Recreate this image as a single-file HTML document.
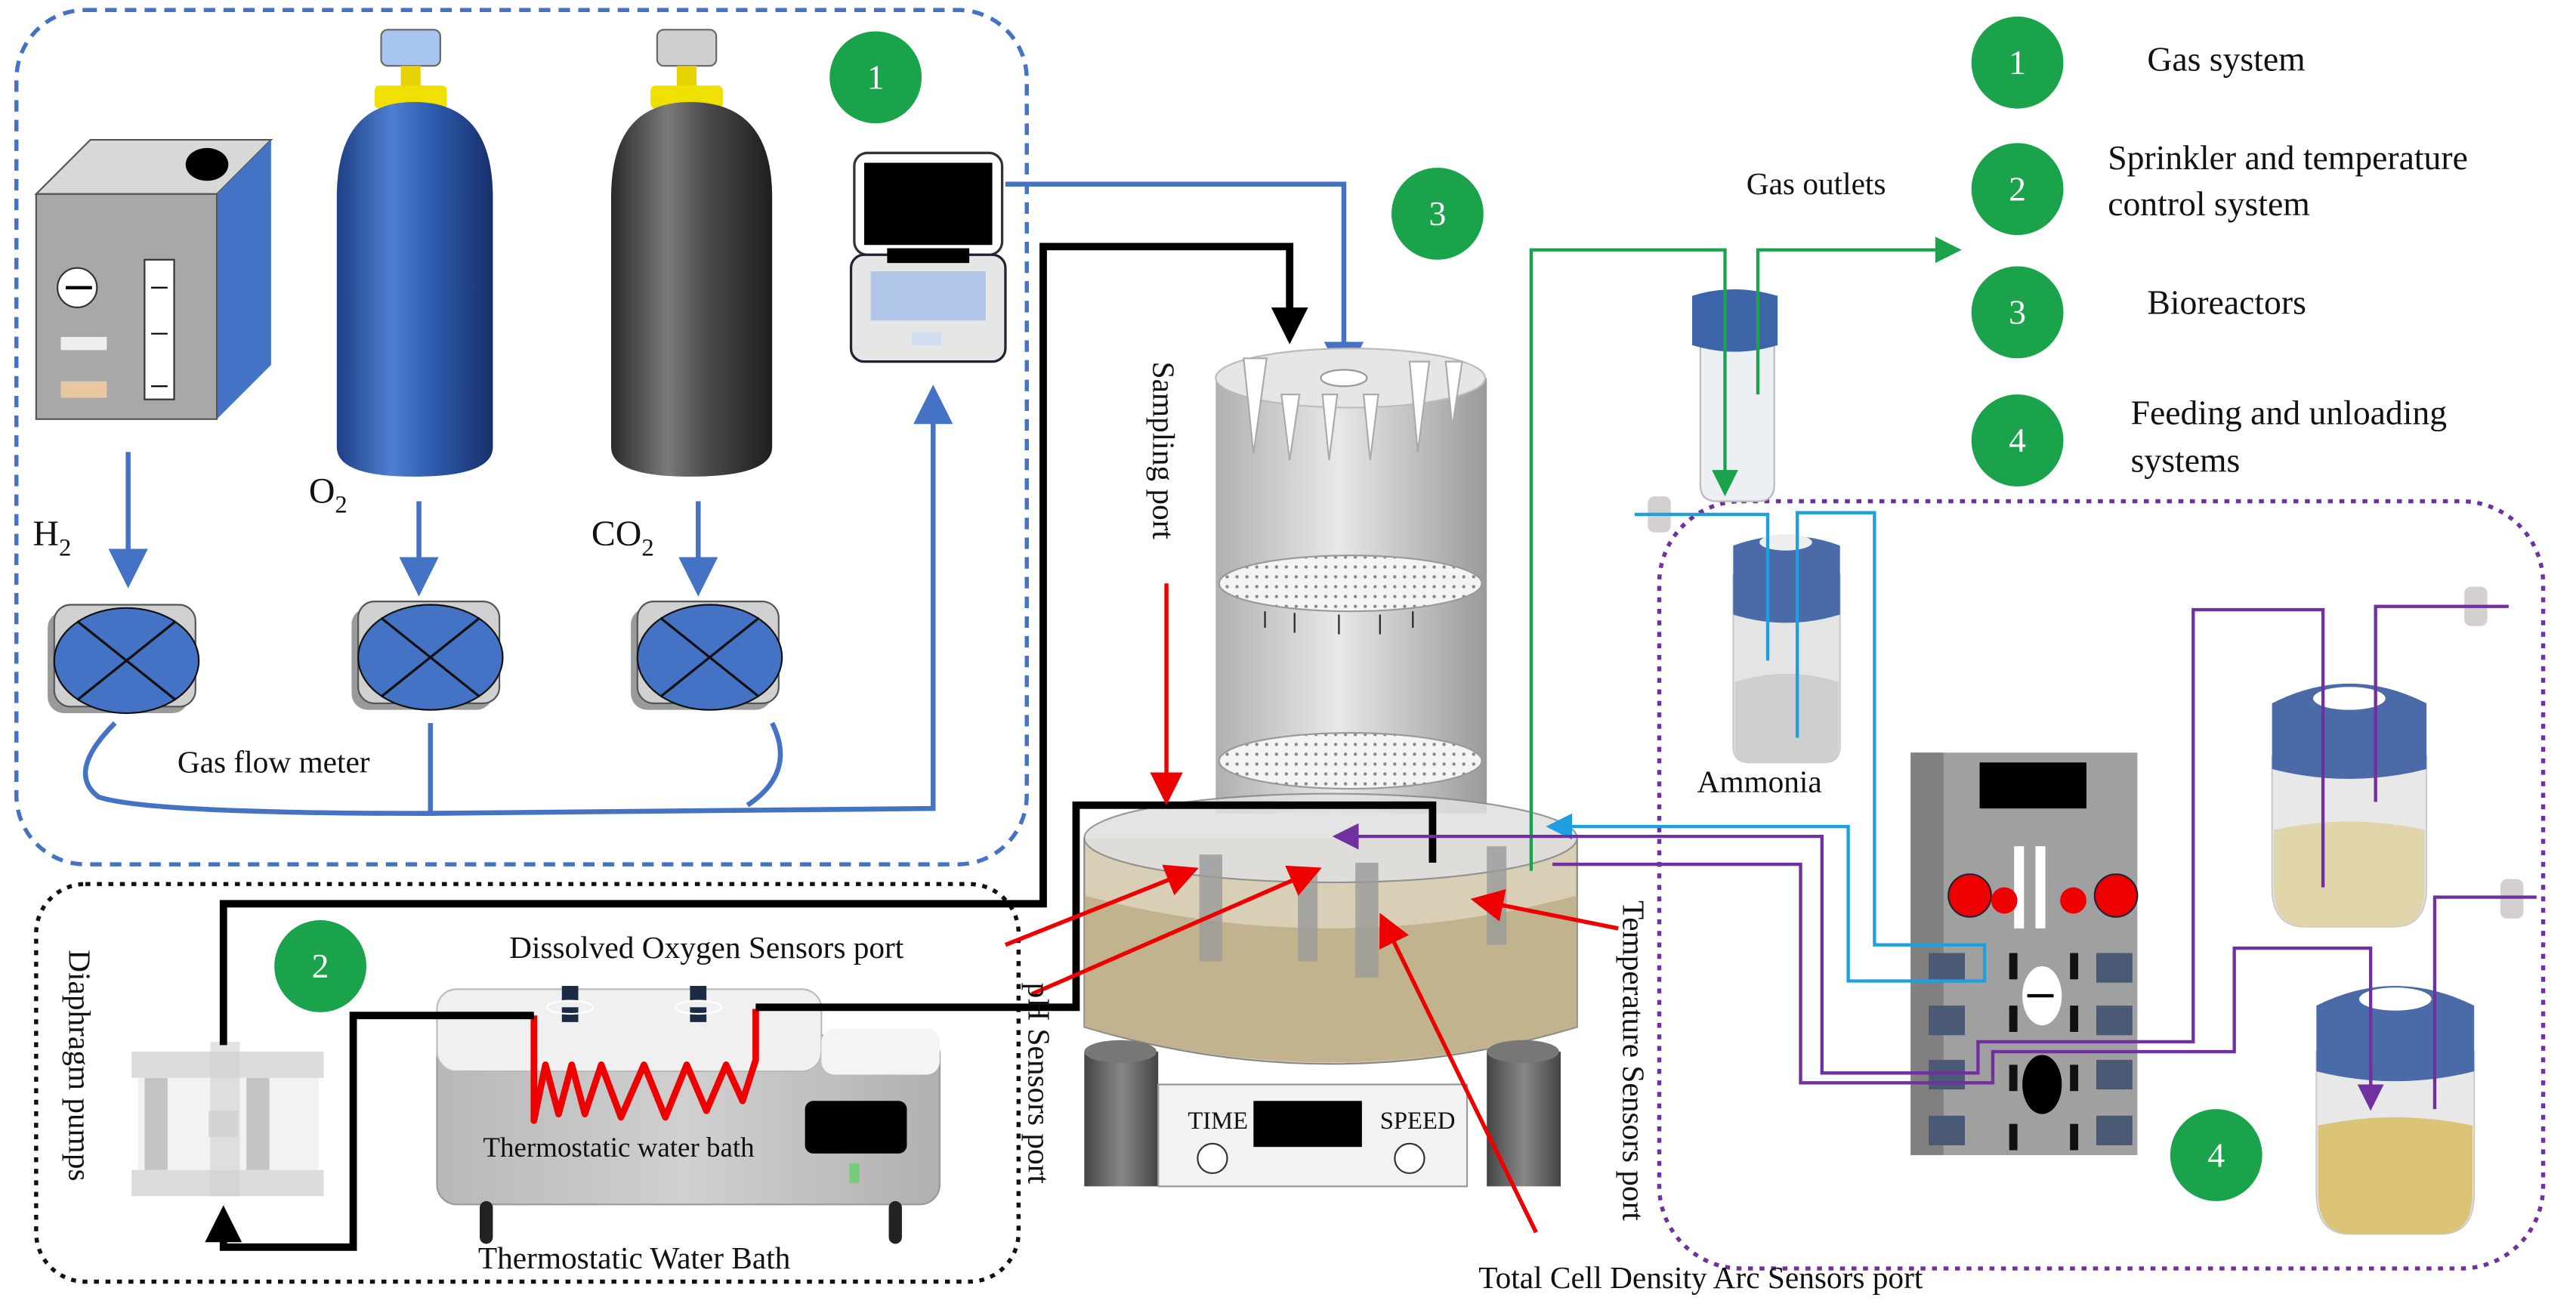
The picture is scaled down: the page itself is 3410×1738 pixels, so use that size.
<!DOCTYPE html>
<html><head><meta charset="utf-8"><style>
html,body{margin:0;padding:0;background:#fff}
svg{display:block}
text{font-family:"Liberation Serif",serif;fill:#111}
</style></head><body>
<svg width="3410" height="1738" viewBox="0 0 1568 799" xmlns="http://www.w3.org/2000/svg">
<defs>
<linearGradient id="blueC" x1="0" x2="1"><stop offset="0" stop-color="#1d3f86"/><stop offset=".35" stop-color="#4f7fd0"/><stop offset=".6" stop-color="#2f5db0"/><stop offset="1" stop-color="#17306a"/></linearGradient>
<linearGradient id="grayC" x1="0" x2="1"><stop offset="0" stop-color="#2a2a2a"/><stop offset=".35" stop-color="#7a7a7a"/><stop offset=".6" stop-color="#4a4a4a"/><stop offset="1" stop-color="#1e1e1e"/></linearGradient>
<linearGradient id="col" x1="0" x2="1"><stop offset="0" stop-color="#b0b0b0"/><stop offset=".45" stop-color="#e8e8e8"/><stop offset="1" stop-color="#9a9a9a"/></linearGradient>
<linearGradient id="leg" x1="0" x2="1"><stop offset="0" stop-color="#444"/><stop offset=".5" stop-color="#888"/><stop offset="1" stop-color="#444"/></linearGradient>
<linearGradient id="bath" x1="0" x2="1"><stop offset="0" stop-color="#b8b8b8"/><stop offset=".5" stop-color="#d0d0d0"/><stop offset="1" stop-color="#b0b0b0"/></linearGradient>
<pattern id="dots" width="6" height="6" patternUnits="userSpaceOnUse"><rect width="6" height="6" fill="#f4f4f4"/><circle cx="3" cy="3" r="1" fill="#888"/></pattern>
<marker id="ab" markerWidth="8" markerHeight="8" refX="6" refY="4" orient="auto" markerUnits="strokeWidth"><path d="M0,0 L8,4 L0,8z" fill="#4472c4"/></marker>
<marker id="ak" markerWidth="5" markerHeight="5" refX="4" refY="2.5" orient="auto" markerUnits="strokeWidth"><path d="M0,0 L5,2.5 L0,5z" fill="#000"/></marker>
<marker id="ar" markerWidth="8" markerHeight="8" refX="6" refY="4" orient="auto" markerUnits="strokeWidth"><path d="M0,0 L8,4 L0,8z" fill="#e00"/></marker>
<marker id="ag" markerWidth="8" markerHeight="8" refX="6" refY="4" orient="auto" markerUnits="strokeWidth"><path d="M0,0 L8,4 L0,8z" fill="#1aa34a"/></marker>
<marker id="ac" markerWidth="8" markerHeight="8" refX="6" refY="4" orient="auto" markerUnits="strokeWidth"><path d="M0,0 L8,4 L0,8z" fill="#1ea0e0"/></marker>
<marker id="ap" markerWidth="8" markerHeight="8" refX="6" refY="4" orient="auto" markerUnits="strokeWidth"><path d="M0,0 L8,4 L0,8z" fill="#7030a0"/></marker>
<g id="meter"><rect x="-46" y="-30" width="86" height="62" rx="10" fill="#9a9a9a"/><rect x="-42" y="-34" width="86" height="62" rx="10" fill="#d0d0d0" stroke="#555"/><ellipse cx="2" cy="0" rx="44" ry="32" fill="#4472c4" stroke="#111"/><path d="M-28,-24 L32,24 M-28,24 L32,-24" stroke="#111" stroke-width="1.5"/></g>
</defs>

<!-- boxes -->
<rect x="10" y="6" width="615" height="520" rx="42" fill="none" stroke="#4472c4" stroke-width="2.5" stroke-dasharray="7,5"/>
<rect x="22" y="538" width="598" height="242" rx="30" fill="none" stroke="#111" stroke-width="2.5" stroke-dasharray="3,4"/>
<rect x="1010" y="305" width="538" height="467" rx="50" fill="none" stroke="#7030a0" stroke-width="2.5" stroke-dasharray="3,4"/>

<!-- legend -->
<g font-size="21">
<circle cx="1228" cy="38" r="28" fill="#1aa34a"/><text x="1228" y="45" text-anchor="middle" style="fill:#fff">1</text>
<text x="1307" y="43">Gas system</text>
<circle cx="1228" cy="115" r="28" fill="#1aa34a"/><text x="1228" y="122" text-anchor="middle" style="fill:#fff">2</text>
<text x="1283" y="103">Sprinkler and temperature</text><text x="1283" y="131">control system</text>
<circle cx="1228" cy="190" r="28" fill="#1aa34a"/><text x="1228" y="197" text-anchor="middle" style="fill:#fff">3</text>
<text x="1307" y="191">Bioreactors</text>
<circle cx="1228" cy="268" r="28" fill="#1aa34a"/><text x="1228" y="275" text-anchor="middle" style="fill:#fff">4</text>
<text x="1297" y="258">Feeding and unloading</text><text x="1297" y="287">systems</text>
<circle cx="533" cy="47" r="28" fill="#1aa34a"/><text x="533" y="54" text-anchor="middle" style="fill:#fff">1</text>
<circle cx="875" cy="130" r="28" fill="#1aa34a"/><text x="875" y="137" text-anchor="middle" style="fill:#fff">3</text>
<circle cx="195" cy="588" r="28" fill="#1aa34a"/><text x="195" y="595" text-anchor="middle" style="fill:#fff">2</text>
<circle cx="1349" cy="703" r="28" fill="#1aa34a"/><text x="1349" y="710" text-anchor="middle" style="fill:#fff">4</text>
</g>

<!-- H2 generator box -->
<polygon points="22,118 55,85 165,85 132,118" fill="#d8d8d8" stroke="#555"/>
<polygon points="132,118 165,85 165,222 132,255" fill="#4472c4"/>
<rect x="22" y="118" width="110" height="137" fill="#a8a8a8" stroke="#555"/>
<ellipse cx="126" cy="100" rx="13" ry="10" fill="#000"/>
<circle cx="47" cy="175" r="12" fill="#fff" stroke="#333"/><path d="M40,175 L56,175" stroke="#000" stroke-width="2"/>
<rect x="88" y="158" width="18" height="85" fill="#fff" stroke="#333"/>
<path d="M92,175h10M92,203h10M92,235h10" stroke="#000"/>
<rect x="37" y="205" width="28" height="8" fill="#eee"/><rect x="37" y="232" width="28" height="10" fill="#e8c8a0"/>

<!-- cylinders -->
<rect x="232" y="18" width="36" height="22" rx="4" fill="#a8c4f0" stroke="#666"/><rect x="244" y="40" width="12" height="20" fill="#e6d200"/><rect x="228" y="52" width="44" height="14" rx="3" fill="#f0e000"/>
<path d="M205,120 Q205,62 252,62 Q300,62 300,120 L300,272 Q300,290 252,290 Q205,290 205,272Z" fill="url(#blueC)"/>
<rect x="400" y="18" width="36" height="22" rx="4" fill="#cfcfcf" stroke="#666"/><rect x="412" y="40" width="12" height="20" fill="#e6d200"/><rect x="396" y="52" width="44" height="14" rx="3" fill="#f0e000"/>
<path d="M372,120 Q372,62 420,62 Q470,62 470,120 L470,272 Q470,290 420,290 Q372,290 372,272Z" fill="url(#grayC)"/>

<!-- laptop -->
<rect x="520" y="93" width="90" height="62" rx="8" fill="#fff" stroke="#333" stroke-width="1.5"/><rect x="526" y="99" width="78" height="50" fill="#000"/>
<rect x="518" y="155" width="94" height="65" rx="8" fill="#e6e6e6" stroke="#223" stroke-width="1.5"/><rect x="530" y="165" width="70" height="30" fill="#b0c6e8"/><rect x="555" y="202" width="18" height="8" fill="#d3def2"/>
<rect x="540" y="151" width="50" height="9" fill="#000"/>

<!-- labels gas -->
<g font-size="22"><text x="20" y="332">H<tspan font-size="15" dy="6">2</tspan></text>
<text x="188" y="306">O<tspan font-size="15" dy="6">2</tspan></text>
<text x="360" y="332">CO<tspan font-size="15" dy="6">2</tspan></text></g>
<text x="108" y="470" font-size="19">Gas flow meter</text>

<!-- blue lines -->
<g stroke="#4472c4" stroke-width="3" fill="none">
<path d="M78,275 V352" marker-end="url(#ab)"/><path d="M255,305 V357" marker-end="url(#ab)"/><path d="M425,305 V357" marker-end="url(#ab)"/>
<path d="M70,440 Q40,470 60,485 Q90,495 260,495 L568,492 V240" marker-end="url(#ab)"/>
<path d="M262,440 V495"/><path d="M470,440 Q485,470 455,490"/>
<path d="M612,112 H818 V226" marker-end="url(#ab)"/>
</g>
<use href="#meter" x="75" y="402"/><use href="#meter" x="260" y="400"/><use href="#meter" x="430" y="400"/>

<!-- bioreactor column -->
<rect x="740" y="230" width="165" height="265" fill="url(#col)"/>
<ellipse cx="822" cy="230" rx="82" ry="18" fill="#e6e6e6" stroke="#bbb"/>
<ellipse cx="818" cy="230" rx="14" ry="5" fill="#fff" stroke="#999"/>
<path d="M757,218 l6,58 l8,-58z M780,240 l5,40 l6,-40z M805,240 l4,40 l5,-40z M830,240 l4,40 l5,-40z M858,220 l5,55 l7,-55z M880,220 l4,40 l6,-40z" fill="#fff" stroke="#aaa"/>
<ellipse cx="822" cy="355" rx="80" ry="17" fill="url(#dots)" stroke="#999"/>
<path d="M770,372v10M788,373v12M815,374v12M840,374v12M860,372v10" stroke="#222"/>
<ellipse cx="822" cy="463" rx="80" ry="17" fill="url(#dots)" stroke="#999"/>
<!-- tank -->
<path d="M660,510 V625 Q810,670 960,625 V510" fill="#d8cfb6" stroke="#888"/>
<path d="M660,545 Q810,585 960,545 V625 Q810,668 660,625Z" fill="#b8a77c" opacity=".7"/>
<ellipse cx="810" cy="510" rx="150" ry="27" fill="#e0e0e0" opacity=".85" stroke="#888"/>
<g fill="#9a9a9a" opacity=".8"><rect x="730" y="520" width="14" height="65"/><rect x="825" y="525" width="14" height="70"/><rect x="905" y="515" width="12" height="60"/><rect x="790" y="530" width="12" height="55"/></g>
<!-- legs & stand -->
<rect x="660" y="640" width="45" height="82" fill="url(#leg)"/><ellipse cx="682" cy="640" rx="22" ry="7" fill="#777"/>
<rect x="905" y="640" width="45" height="82" fill="url(#leg)"/><ellipse cx="927" cy="640" rx="22" ry="7" fill="#777"/>
<polygon points="705,660 893,660 893,722 705,722" fill="#f2f2f2" stroke="#999"/>
<rect x="763" y="670" width="66" height="28" fill="#000"/>
<text x="723" y="687" font-size="15">TIME</text><text x="840" y="687" font-size="15">SPEED</text>
<circle cx="738" cy="705" r="9" fill="#fff" stroke="#333"/><circle cx="858" cy="705" r="9" fill="#fff" stroke="#333"/>

<!-- water bath -->
<rect x="266" y="630" width="306" height="103" rx="12" fill="url(#bath)" stroke="#999"/>
<rect x="266" y="602" width="234" height="50" rx="12" fill="#f0f0f0" stroke="#bbb"/>
<rect x="500" y="626" width="72" height="28" rx="8" fill="#f4f4f4"/>
<rect x="490" y="670" width="62" height="32" rx="5" fill="#000"/>
<rect x="517" y="708" width="6" height="12" fill="#7c7"/>
<path d="M296,735 v18 M545,735 v18" stroke="#222" stroke-width="8" stroke-linecap="round"/>
<g fill="#1c2b45"><rect x="342" y="600" width="10" height="9"/><rect x="342" y="613" width="10" height="9"/><rect x="420" y="600" width="10" height="9"/><rect x="420" y="613" width="10" height="9"/></g>
<g fill="none" stroke="#fff"><ellipse cx="347" cy="613" rx="14" ry="4"/><ellipse cx="425" cy="613" rx="14" ry="4"/></g>
<polyline points="325,618 325,682 332,648 340,678 348,648 356,678 366,648 378,680 392,648 405,680 418,648 430,676 442,648 452,670 460,645 460,614" fill="none" stroke="#e00" stroke-width="4" stroke-linejoin="round"/>
<text x="294" y="704" font-size="17">Thermostatic water bath</text>
<text x="291" y="772" font-size="19">Thermostatic Water Bath</text>

<!-- diaphragm pump -->
<rect x="80" y="640" width="117" height="16" fill="#dcdcdc"/>
<rect x="80" y="712" width="117" height="16" fill="#dcdcdc"/>
<rect x="84" y="656" width="110" height="56" fill="#f2f2f2"/>
<rect x="88" y="656" width="14" height="56" fill="#c4c4c4"/><rect x="150" y="656" width="14" height="56" fill="#c4c4c4"/>
<rect x="127" y="676" width="18" height="16" fill="#d6d6d6"/>
<rect x="128" y="634" width="18" height="94" fill="#d0d0d0" opacity=".6"/>
<text font-size="19" transform="translate(42,578) rotate(90)">Diaphragm pumps</text>

<!-- black lines -->
<g stroke="#000" stroke-width="4.5" fill="none">
<path d="M136,636 V550 H635 V150 H785 V205" marker-end="url(#ak)"/>
<path d="M325,618 H215 V759 H136 V738" marker-end="url(#ak)"/>
<path d="M460,613 H655 V490 H872 V525"/>
</g>

<!-- red sensor lines -->
<g stroke="#e00" stroke-width="2.5" fill="none">
<path d="M710,355 V485" marker-end="url(#ar)"/>
<path d="M612,575 L725,530" marker-end="url(#ar)"/>
<path d="M628,605 L800,530" marker-end="url(#ar)"/>
<path d="M935,750 L842,560" marker-end="url(#ar)"/>
<path d="M985,565 L900,548" marker-end="url(#ar)"/>
</g>
<text font-size="19" transform="translate(702,220) rotate(90)">Sampling port</text>
<text x="310" y="583" font-size="19">Dissolved Oxygen Sensors port</text>
<text font-size="19" transform="translate(626,598) rotate(90)">pH Sensors port</text>
<text font-size="19" transform="translate(988,548) rotate(90)">Temperature Sensors port</text>
<text x="900" y="784" font-size="19">Total Cell Density Arc Sensors port</text>

<!-- right bottles -->
<text x="1063" y="118" font-size="19">Gas outlets</text>
<path d="M1035,200 h45 v95 q0,10 -10,10 h-25 q-10,0 -10,-10z" fill="#eceff4" stroke="#bbb"/>
<path d="M1030,180 q25,-8 52,0 v30 q-26,8 -52,0z" fill="#3d64a8"/>
<path d="M1055,350 h65 v104 q0,10 -10,10 h-45 q-10,0 -10,-10z" fill="#e4e4e4" stroke="#ccc"/>
<path d="M1056,415 q32,-10 63,0 v40 q0,9 -10,9 h-43 q-10,0 -10,-9z" fill="#cfcfcf"/>
<path d="M1055,332 q33,-12 65,0 v42 q-33,10 -65,0z" fill="#4a6ba8"/><ellipse cx="1087" cy="330" rx="16" ry="5" fill="#eee"/>
<text x="1033" y="482" font-size="19">Ammonia</text>
<path d="M1383,460 h94 v80 q0,24 -20,24 h-54 q-20,0 -20,-24z" fill="#e8e8e8" stroke="#ccc"/>
<path d="M1384,505 q46,-10 92,0 v35 q0,24 -20,24 h-52 q-20,0 -20,-24z" fill="#e0d3a4" opacity=".9"/>
<path d="M1383,428 q47,-24 94,0 v40 q-47,12 -94,0z" fill="#4a6ba8"/><ellipse cx="1430" cy="425" rx="22" ry="7" fill="#fff"/>
<path d="M1410,640 h96 v86 q0,25 -20,25 h-56 q-20,0 -20,-25z" fill="#e8e8e8" stroke="#ccc"/>
<path d="M1411,685 q47,-10 94,0 v41 q0,25 -20,25 h-54 q-20,0 -20,-25z" fill="#d9bf6c" opacity=".9"/>
<path d="M1410,612 q48,-24 96,0 v40 q-48,12 -96,0z" fill="#4a6ba8"/><ellipse cx="1458" cy="608" rx="22" ry="7" fill="#fff"/>
<!-- controller -->
<rect x="1163" y="458" width="138" height="245" fill="#a0a0a0"/>
<rect x="1163" y="458" width="20" height="245" fill="#808080"/>
<rect x="1205" y="464" width="65" height="28" fill="#000"/>
<rect x="1226" y="515" width="6" height="50" fill="#fff"/><rect x="1239" y="515" width="6" height="50" fill="#fff"/>
<circle cx="1199" cy="545" r="13" fill="#e00" stroke="#223"/><circle cx="1220" cy="548" r="8" fill="#e00"/><circle cx="1262" cy="548" r="8" fill="#e00"/><circle cx="1288" cy="545" r="13" fill="#e00" stroke="#223"/>
<ellipse cx="1243" cy="606" rx="12" ry="18" fill="#fff"/><path d="M1234,606 h16" stroke="#000" stroke-width="2"/>
<ellipse cx="1243" cy="660" rx="12" ry="18" fill="#000"/>
<g fill="#4a5a74"><rect x="1174" y="580" width="22" height="18"/><rect x="1174" y="612" width="22" height="18"/><rect x="1174" y="645" width="22" height="18"/><rect x="1174" y="679" width="22" height="18"/><rect x="1276" y="580" width="22" height="18"/><rect x="1276" y="612" width="22" height="18"/><rect x="1276" y="645" width="22" height="18"/><rect x="1276" y="679" width="22" height="18"/></g>
<g fill="#111"><rect x="1223" y="580" width="5" height="16"/><rect x="1260" y="580" width="5" height="16"/><rect x="1223" y="612" width="5" height="16"/><rect x="1260" y="612" width="5" height="16"/><rect x="1223" y="648" width="5" height="16"/><rect x="1260" y="648" width="5" height="16"/><rect x="1223" y="684" width="5" height="16"/><rect x="1260" y="684" width="5" height="16"/></g>
<!-- connector plugs -->
<rect x="1003" y="302" width="14" height="22" rx="4" fill="#d4d0d0"/>
<rect x="1500" y="357" width="14" height="24" rx="4" fill="#d4d0d0"/>
<rect x="1522" y="535" width="14" height="24" rx="4" fill="#d4d0d0"/>

<!-- green lines -->
<g stroke="#1aa34a" stroke-width="2" fill="none">
<path d="M932,530 V152 H1050 V298" marker-end="url(#ag)"/>
<path d="M1070,240 V152 H1190" marker-end="url(#ag)"/>
</g>
<!-- cyan lines -->
<g stroke="#1ea0e0" stroke-width="2" fill="none">
<path d="M995,313 H1076 V402"/>
<path d="M1094,449 V312 H1141 V575 H1208 V597 H1125 V503 H945" marker-end="url(#ac)"/>
</g>
<!-- purple lines -->
<g stroke="#7030a0" stroke-width="2" fill="none">
<path d="M1414,540 V371 H1335 V634 H1204 V653 H1109 V509 H815" marker-end="url(#ap)"/>
<path d="M1443,671 V577 H1360 V640 H1213 V659 H1096 V526 H945"/>
<path d="M1527,369 H1446 V488"/>
<path d="M1544,546 H1482 V675"/>
<path d="M1443,650 V672" marker-end="url(#ap)"/>
</g>
</svg>
</body></html>
